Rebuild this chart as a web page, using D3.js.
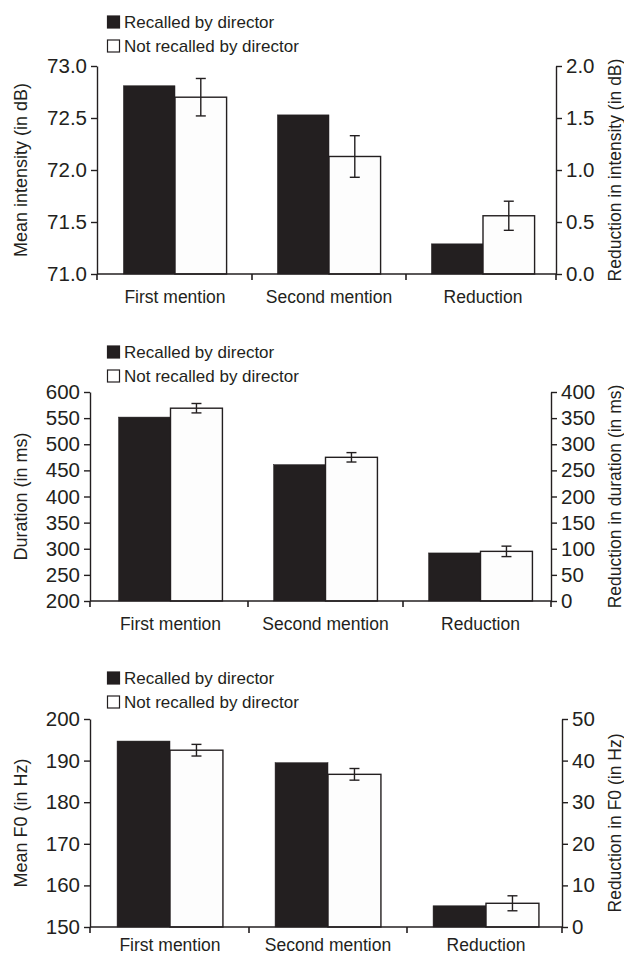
<!DOCTYPE html>
<html>
<head>
<meta charset="utf-8">
<script src="https://cdn.jsdelivr.net/npm/d3@7"></script>
<style>
  body { margin: 0; background: #fff; }
  svg text { font-family: "Liberation Sans", Arial, sans-serif; fill: #231f20; }
</style>
</head>
<body>
<div id="chart"></div>
<script>
// categories and series
const categories = ['First mention', 'Second mention', 'Reduction'];
const series = ['Recalled by director', 'Not recalled by director'];

// intensity (dB); Reduction is read on the right axis
const intensityRecalled = [72.81, 72.53, 0.29];
const intensityNotRecalled = [72.70, 72.13, 0.56];
const intensityError = [0.18, 0.20, 0.14];
const intensityLeftTicks = [71.0, 71.5, 72.0, 72.5, 73.0];
const intensityRightTicks = [0.0, 0.5, 1.0, 1.5, 2.0];

// duration (ms)
const durationRecalled = [552, 461, 92];
const durationNotRecalled = [569, 475, 95];
const durationError = [9, 9, 10];
const durationLeftTicks = [200, 250, 300, 350, 400, 450, 500, 550, 600];
const durationRightTicks = [0, 50, 100, 150, 200, 250, 300, 350, 400];

// F0 (Hz)
const f0Recalled = [194.7, 189.5, 5.1];
const f0NotRecalled = [192.5, 186.7, 5.7];
const f0Error = [1.4, 1.4, 1.8];
const f0LeftTicks = [150, 160, 170, 180, 190, 200];
const f0RightTicks = [0, 10, 20, 30, 40, 50];

const ink = '#231f20';

const svg = d3.select('#chart').append('svg')
    .attr('width', 624)
    .attr('height', 958);

function drawPanel(cfg) {
  const g = svg.append('g');

  const yL = d3.scaleLinear()
      .domain(d3.extent(cfg.leftTicks))
      .range([cfg.bottom, cfg.top]);
  const yR = d3.scaleLinear()
      .domain(d3.extent(cfg.rightTicks))
      .range([cfg.bottom, cfg.top]);

  const x0 = d3.scaleBand()
      .domain(categories)
      .range(cfg.bandRange)
      .paddingInner(0.33)
      .paddingOuter(0.165);
  const x1 = d3.scaleBand()
      .domain(series)
      .range([0, x0.bandwidth()]);

  const rows = categories.map((c, i) => ({
    cat: c,
    values: [cfg.recalled[i], cfg.notRecalled[i]],
    err: cfg.error[i],
    y: c === 'Reduction' ? yR : yL
  }));

  // bars
  const groups = g.selectAll('.grp')
      .data(rows)
    .join('g')
      .attr('class', 'grp')
      .attr('transform', d => `translate(${x0(d.cat)},0)`);

  groups.selectAll('rect')
      .data(d => d.values.map((v, j) => ({v: v, s: series[j], y: d.y})))
    .join('rect')
      .attr('x', d => x1(d.s))
      .attr('width', x1.bandwidth())
      .attr('y', d => d.y(d.v))
      .attr('height', d => cfg.bottom - d.y(d.v))
      .attr('fill', d => d.s === series[0] ? ink : '#fdfdfd')
      .attr('stroke', ink)
      .attr('stroke-width', d => d.s === series[0] ? 0.5 : 1.4);

  // error bars on the "not recalled" bars
  const eb = groups.append('g')
      .attr('stroke', ink)
      .attr('stroke-width', 1.4)
      .attr('fill', 'none');
  const ex = x1(series[1]) + x1.bandwidth() / 2;
  eb.append('line')
      .attr('x1', ex).attr('x2', ex)
      .attr('y1', d => d.y(d.values[1] + d.err))
      .attr('y2', d => d.y(d.values[1] - d.err));
  eb.append('line')
      .attr('x1', ex - 5).attr('x2', ex + 5)
      .attr('y1', d => d.y(d.values[1] + d.err))
      .attr('y2', d => d.y(d.values[1] + d.err));
  eb.append('line')
      .attr('x1', ex - 5).attr('x2', ex + 5)
      .attr('y1', d => d.y(d.values[1] - d.err))
      .attr('y2', d => d.y(d.values[1] - d.err));

  // left axis
  const left = g.append('g')
      .attr('transform', `translate(${cfg.axisLeft},0)`)
      .call(d3.axisLeft(yL).tickValues(cfg.leftTicks).tickFormat(cfg.fmt)
        .tickSize(6).tickSizeOuter(0).tickPadding(4));
  // right axis
  const right = g.append('g')
      .attr('transform', `translate(${cfg.axisRight},0)`)
      .call(d3.axisRight(yR).tickValues(cfg.rightTicks).tickFormat(cfg.fmt)
        .tickSize(6).tickSizeOuter(0).tickPadding(4));
  [left, right].forEach(a => {
    a.selectAll('path, line').attr('stroke', ink).attr('stroke-width', 1.4);
    a.selectAll('text').attr('font-size', 20.5).attr('font-family', null).attr('fill', ink);
  });

  // x axis line with separator ticks
  g.append('line')
      .attr('x1', cfg.axisLeft).attr('x2', cfg.axisRight)
      .attr('y1', cfg.bottom).attr('y2', cfg.bottom)
      .attr('stroke', ink).attr('stroke-width', 1.4);
  const seps = [cfg.axisLeft, x0(categories[1]) - x0.step() * x0.paddingInner() / 2,
                x0(categories[2]) - x0.step() * x0.paddingInner() / 2, cfg.axisRight];
  g.selectAll('.sep')
      .data(seps)
    .join('line')
      .attr('class', 'sep')
      .attr('x1', d => d).attr('x2', d => d)
      .attr('y1', cfg.bottom).attr('y2', cfg.bottom + 6)
      .attr('stroke', ink).attr('stroke-width', 1.6);

  // category labels
  g.selectAll('.cat')
      .data(categories)
    .join('text')
      .attr('class', 'cat')
      .attr('x', d => x0(d) + x0.bandwidth() / 2)
      .attr('y', cfg.bottom + cfg.labelOffset)
      .attr('text-anchor', 'middle')
      .attr('font-size', 17.5)
      .text(d => d);

  // axis titles
  const mid = (cfg.top + cfg.bottom) / 2;
  g.append('text')
      .attr('transform', `translate(21,${mid}) rotate(-90)`)
      .attr('dy', '0.35em')
      .attr('text-anchor', 'middle')
      .attr('font-size', 18)
      .text(cfg.leftTitle);
  g.append('text')
      .attr('transform', `translate(615,${mid}) rotate(-90)`)
      .attr('dy', '0.35em')
      .attr('text-anchor', 'middle')
      .attr('font-size', 17.5)
      .text(cfg.rightTitle);

  // legend
  const leg = g.selectAll('.leg')
      .data(series)
    .join('g')
      .attr('class', 'leg')
      .attr('transform', (d, i) => `translate(107,${cfg.legendY + i * 24})`);
  leg.append('rect')
      .attr('x', 0.5).attr('y', -6)
      .attr('width', 12).attr('height', 12)
      .attr('fill', (d, i) => i === 0 ? ink : '#fff')
      .attr('stroke', ink).attr('stroke-width', 1.2);
  leg.append('text')
      .attr('x', 17)
      .attr('dy', '0.35em')
      .attr('font-size', 17)
      .text(d => d);
}

drawPanel({
  top: 66, bottom: 274, axisLeft: 97, axisRight: 556, bandRange: [98, 560], legendY: 22, labelOffset: 29,
  leftTicks: intensityLeftTicks, rightTicks: intensityRightTicks, fmt: d3.format('.1f'),
  recalled: intensityRecalled, notRecalled: intensityNotRecalled, error: intensityError,
  leftTitle: 'Mean intensity (in dB)', rightTitle: 'Reduction in intensity (in dB)'
});

drawPanel({
  top: 392, bottom: 601, axisLeft: 90, axisRight: 551, bandRange: [93, 558], legendY: 352, labelOffset: 29,
  leftTicks: durationLeftTicks, rightTicks: durationRightTicks, fmt: d3.format('d'),
  recalled: durationRecalled, notRecalled: durationNotRecalled, error: durationError,
  leftTitle: 'Duration (in ms)', rightTitle: 'Reduction in duration (in ms)'
});

drawPanel({
  top: 719, bottom: 927, axisLeft: 90, axisRight: 562, bandRange: [91, 565], legendY: 678, labelOffset: 24,
  leftTicks: f0LeftTicks, rightTicks: f0RightTicks, fmt: d3.format('d'),
  recalled: f0Recalled, notRecalled: f0NotRecalled, error: f0Error,
  leftTitle: 'Mean F0 (in Hz)', rightTitle: 'Reduction in F0 (in Hz)'
});
</script>
</body>
</html>
